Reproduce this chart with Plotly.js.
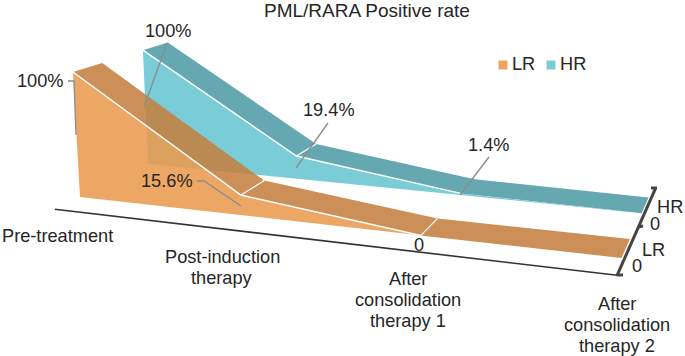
<!DOCTYPE html>
<html><head><meta charset="utf-8">
<script src="https://cdn.plot.ly/plotly-3.0.1.min.js"></script>
<style>html,body{margin:0;padding:0;background:#fff}#c{width:685px;height:356px}</style></head>
<body><div id="c"></div>
<script>
// ---- data ----
const titleText = "PML/RARA Positive rate";
const categories = [["Pre-treatment"],["Post-induction","therapy"],["After","consolidation","therapy 1"],["After","consolidation","therapy 2"]];
const LR_values = [1, 0.156, 0, 0];
const HR_values = [1, 0.194, 0.014, 0];
const LR_labels = ["100%","15.6%","0"];
const HR_labels = ["100%","19.4%","1.4%"];
const seriesNames = ["LR","HR"];
const depthTickLabels = ["0","0"];
// ---- oblique perspective scale (category, depth, value) -> page pixels ----
function proj(u,d,v){
  const w = 1 - 0.05*u + 0.145*d - 0.021*v;
  return [(80 + 149.4*u + 117.2*d - 8.6*v)/w, (197 + 7.43*u - 22.8*d - 126.5*v)/w];
}
const cols = {lrF:'rgba(235,155,78,.88)', lrT:'rgba(196,127,64,.88)', hrF:'#7accd7', hrT:'#66a8b2'};
const depth = {LR:[0,0.28], HR:[0.71,1]};
const idx = categories.map((c,i)=>i);
function poly(pts,color){
  const p = pts.map(a=>proj(a[0],a[1],a[2]));
  p.push(p[0]);
  return {type:'scatter',mode:'lines',x:p.map(a=>a[0]),y:p.map(a=>a[1]),fill:'toself',fillcolor:color,line:{width:0},hoverinfo:'skip',showlegend:false};
}
function line(pts,color,width){
  const p = pts.map(a=>proj(a[0],a[1],a[2]));
  return {type:'scatter',mode:'lines',x:p.map(a=>a[0]),y:p.map(a=>a[1]),line:{color:color,width:width},hoverinfo:'skip',showlegend:false};
}
function series(vals,dp,front,top,whiteUpTo){
  const tr=[];
  const d0=dp[0], d1=dp[1];
  tr.push(poly(idx.map(u=>[u,d0,vals[u]]).concat(idx.slice().reverse().map(u=>[u,d1,vals[u]])),top));
  tr.push(poly(idx.map(u=>[u,d0,vals[u]]).concat(idx.slice().reverse().map(u=>[u,d0,0])),front));
  tr.push(line(idx.filter(u=>u<=2).map(u=>[u,d0,vals[u]]),'#fff',1.5));
  for(let u=1;u<=whiteUpTo;u++) tr.push(line([[u,d0,vals[u]],[u,d1,vals[u]]],'#fff',1.2));
  return tr;
}
const traces = [].concat(
  series(HR_values,depth.HR,cols.hrF,cols.hrT,1),
  series(LR_values,depth.LR,cols.lrF,cols.lrT,2)
);
// axes
const axD=-0.23, axU=3.015;
traces.push(line([[0,axD,0],[axU,axD,0]],'#333',1.6));
traces.push(line([[axU,axD,0],[axU,1.18,0]],'#444',3));
// legend
const lgX=[503,551], lgC=['#eda45f','#7accd7'];
seriesNames.forEach((n,i)=>traces.push({type:'scatter',mode:'markers',x:[lgX[i]],y:[65],name:n,marker:{symbol:'square',size:9,color:lgC[i]},hoverinfo:'skip',showlegend:false}));

const F={family:'Liberation Sans, Arial, sans-serif',size:18.2,color:'#262626'};
function note(t,x,y,font){return {text:t,x:x,y:y,xref:'x',yref:'y',showarrow:false,xanchor:'center',yanchor:'middle',font:font||F};}
const anns=[note(titleText,367,10,Object.assign({},F,{size:19})),
 note(LR_labels[0],40,81),note(LR_labels[1],167,181),note(LR_labels[2],419,245),
 note(HR_labels[0],168,31),note(HR_labels[1],329,110),note(HR_labels[2],488,145),
 note(seriesNames[0],523,64),note(seriesNames[1],573,64),
 note(seriesNames[1],670,207),note(depthTickLabels[1],655,224),note(seriesNames[0],653,250),note(depthTickLabels[0],637,266)];
const catX=[57,222,408,617], catY=[236,257,279,304];
categories.forEach((ls,i)=>ls.forEach((t,j)=>anns.push(note(t,catX[i],catY[i]+j*21))));
const lead=(pts,c,w)=>({type:'path',path:'M'+pts.map(p=>p.join(' ')).join('L'),line:{color:c,width:w||1.3},layer:'above'});
const g='#8c8c8c';
const shapes=[
 lead([[68,81],[74,81],[76,135]],g),lead([[167,43],[144,107]],g),lead([[328,123],[296,168]],g),
 lead([[489,157],[460,195]],g),lead([[197,181],[204,181],[241,206]],g),
 lead([[651,188],[657,188]],'#444',3),lead([[638,227],[643,226]],'#444',3),lead([[617,275],[623,275]],'#444',3)
];
Plotly.newPlot('c',traces,{width:685,height:356,margin:{l:0,r:0,t:0,b:0},showlegend:false,paper_bgcolor:'#fff',plot_bgcolor:'#fff',
 xaxis:{range:[0,685],visible:false,fixedrange:true},yaxis:{range:[356,0],visible:false,fixedrange:true},annotations:anns,shapes:shapes},{displayModeBar:false,staticPlot:true});
</script></body></html>
